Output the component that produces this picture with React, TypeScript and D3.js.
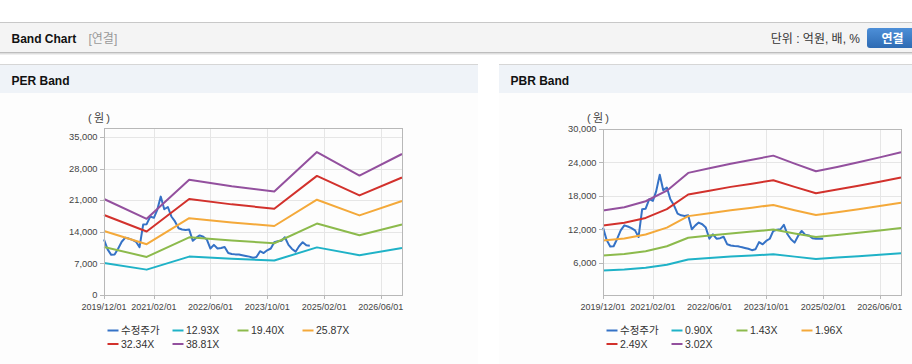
import React from 'react';
import * as d3 from 'd3';

// ---- data ----
const xStart = '2019-12-01';
const xEnd = '2026-12-01';
const xTickDates = ['2019-12-01', '2021-02-01', '2022-06-01', '2023-10-01', '2025-02-01', '2026-06-01'];
const xTickLabels = ['2019/12/01', '2021/02/01', '2022/06/01', '2023/10/01', '2025/02/01', '2026/06/01'];

// 수정주가, one value per month from 2019/12
const priceStart = '2019-12-01';
const priceValues = [
  12300, 10100, 8900, 8950, 10300, 11800, 12700, 12500, 12200, 11800,
  10600, 15600, 15700, 17400, 17100, 18800, 21800, 19000, 19500, 17400,
  16300, 14800, 14500, 14400, 14500, 12000, 12700, 13200, 12900, 12300,
  10300, 11100, 10300, 10400, 10650, 9300, 9100, 9000, 8950, 8800,
  8650, 8500, 8250, 8400, 9700, 9300, 9900, 10300, 11700, 11900,
  12000, 12800, 11100, 10200, 9600, 10800, 11700, 11000, 10900, 10400,
  10300, 10300, 10300,
];
const perPriceEnd = '2024-10-01';

const perBandDates = ['2019-12-01', '2020-12-01', '2021-12-01', '2022-12-01', '2023-12-01', '2024-12-01', '2025-12-01', '2026-12-01'];
const perLabels = ['12.93X', '19.40X', '25.87X', '32.34X', '38.81X'];
const per1293 = [7090, 5620, 8510, 8030, 7640, 10550, 8820, 10410];
const per1940 = [10630, 8440, 12770, 12050, 11470, 15830, 13230, 15620];
const per2587 = [14180, 11250, 17020, 16070, 15290, 21110, 17640, 20830];
const per3234 = [17720, 14070, 21280, 20080, 19110, 26390, 22060, 26030];
const per3881 = [21270, 16880, 25540, 24100, 22940, 31670, 26470, 31240];
const perYTicks = [0, 7000, 14000, 21000, 28000, 35000];

const pbrBandDates = ['2019-12-01', '2020-06-01', '2020-12-01', '2021-06-01', '2021-12-01', '2022-06-01', '2022-12-01', '2023-06-01',
  '2023-12-01', '2024-06-01', '2024-12-01', '2025-06-01', '2025-12-01', '2026-06-01', '2026-12-01'];
const pbrLabels = ['0.90X', '1.43X', '1.96X', '2.49X', '3.02X'];
const pbr090 = [4580, 4760, 5080, 5640, 6590, 6840, 7090, 7290, 7520, 7090, 6680, 6910, 7160, 7420, 7690];
const pbr143 = [7280, 7560, 8060, 8960, 10480, 10870, 11260, 11590, 11940, 11260, 10610, 10980, 11370, 11800, 12220];
const pbr196 = [9970, 10360, 11050, 12290, 14360, 14890, 15430, 15880, 16370, 15430, 14550, 15050, 15590, 16170, 16750];
const pbr249 = [12670, 13160, 14040, 15610, 18240, 18920, 19610, 20180, 20790, 19610, 18480, 19120, 19810, 20540, 21280];
const pbr302 = [15370, 15960, 17030, 18930, 22120, 22950, 23780, 24470, 25220, 23780, 22410, 23190, 24020, 24910, 25810];
const pbrYTicks = [6000, 12000, 18000, 24000, 30000];

const priceColor = '#3572c6';
const bandColors = ['#1fb2c7', '#8cba4c', '#f4a93a', '#d2312c', '#93509e'];

const FONT = "'Liberation Sans', Arial, 'Noto Sans CJK KR', sans-serif";
const parse = d3.timeParse('%Y-%m-%d');

const pricePoints = priceValues.map((v, i) => ({ date: d3.timeMonth.offset(parse(priceStart), i), value: v }));

function BandPanel({ px, pw, title, box, yDomain, yTicks, bandDates, bands, labels, priceEnd, legendX }) {
  const x = d3.scaleTime().domain([parse(xStart), parse(xEnd)]).range([box.left, box.right]);
  const y = d3.scaleLinear().domain(yDomain).range([box.bottom, box.top]);
  const fmt = d3.format(',');
  const line = d3.line().x(d => x(d.date)).y(d => y(d.value));

  const price = pricePoints.filter(p => p.date <= parse(priceEnd));
  const legendItems = [{ label: '수정주가', color: priceColor }].concat(
    labels.map((l, i) => ({ label: l, color: bandColors[i] })));

  return (
    <g>
      <rect x={px} y={64} width={pw} height={300} fill="#fdfdfd" />
      <rect x={px} y={65} width={pw} height={28} fill="#eff3f8" />
      <line x1={px} x2={px + pw} y1={64.5} y2={64.5} stroke="#d6d6d6" />
      <text x={px + 11.5} y={85} fontFamily={FONT} fontSize={12} fontWeight="bold" fill="#111">{title}</text>

      {/* grid */}
      {yTicks.map(t => (
        <line key={'gy' + t} x1={box.left} x2={box.right} y1={Math.round(y(t)) + 0.5} y2={Math.round(y(t)) + 0.5} stroke="#e6e6e6" />
      ))}
      {xTickDates.map(d => (
        <line key={'gx' + d} x1={Math.round(x(parse(d))) + 0.5} x2={Math.round(x(parse(d))) + 0.5} y1={box.top} y2={box.bottom} stroke="#e6e6e6" />
      ))}

      {/* lines */}
      <path d={line(price)} fill="none" stroke={priceColor} strokeWidth={2} strokeLinejoin="round" />
      {bands.map((vals, i) => (
        <path key={'b' + i} d={line(vals.map((v, j) => ({ date: parse(bandDates[j]), value: v })))}
          fill="none" stroke={bandColors[i]} strokeWidth={2} strokeLinejoin="round" />
      ))}

      {/* frame + axes */}
      <rect x={box.left + 0.5} y={box.top + 0.5} width={box.right - box.left} height={box.bottom - box.top} fill="none" stroke="#b8b8b8" />
      {yTicks.map(t => (
        <g key={'ty' + t}>
          <line x1={box.left - 4} x2={box.left} y1={Math.round(y(t)) + 0.5} y2={Math.round(y(t)) + 0.5} stroke="#b8b8b8" />
          <text x={box.left - 6.5} y={y(t)} dy="0.35em" textAnchor="end" fontFamily={FONT} fontSize={9.3} fill="#444">{fmt(t)}</text>
        </g>
      ))}
      {xTickDates.map((d, i) => (
        <g key={'tx' + d}>
          <line x1={Math.round(x(parse(d))) + 0.5} x2={Math.round(x(parse(d))) + 0.5} y1={box.bottom} y2={box.bottom + 4} stroke="#b8b8b8" />
          <text x={x(parse(d))} y={310} textAnchor="middle" fontFamily={FONT} fontSize={9} fill="#444">{xTickLabels[i]}</text>
        </g>
      ))}
      <text x={box.left - 5} y={122} textAnchor="middle" fontFamily={FONT} fontSize={11} fill="#444" textLength={22} lengthAdjust="spacing">(원)</text>

      {/* legend */}
      {legendItems.map((it, i) => {
        const lx = legendX + (i % 4) * 65;
        const ly = 330.5 + Math.floor(i / 4) * 13.5;
        return (
          <g key={'lg' + i}>
            <line x1={lx} x2={lx + 11} y1={ly} y2={ly} stroke={it.color} strokeWidth={2} />
            <text x={lx + 13.5} y={ly} dy="0.36em" fontFamily={FONT} fontSize={10.5} fill="#333">{it.label}</text>
          </g>
        );
      })}
    </g>
  );
}

export default function App() {
  return (
    <svg width={912} height={364} style={{ position: 'absolute', left: 0, top: 0, display: 'block', background: '#fff' }}>
      {/* header */}
      <line x1={0} x2={912} y1={22.5} y2={22.5} stroke="#c8c8c8" />
      <rect x={0} y={23} width={912} height={29} fill="#f4f4f4" />
      <line x1={0} x2={912} y1={52.5} y2={52.5} stroke="#bdbdbd" />
      <line x1={0} x2={912} y1={53.5} y2={53.5} stroke="#dedede" />
      <line x1={0} x2={912} y1={54.5} y2={54.5} stroke="#efefef" />
      <text x={11.5} y={43} fontFamily={FONT} fontSize={12} fontWeight="bold" fill="#111">Band Chart</text>
      <text x={88.5} y={43} fontFamily={FONT} fontSize={12} fill="#999">[연결]</text>
      <text x={860} y={43} textAnchor="end" fontFamily={FONT} fontSize={12} fill="#333">단위 : 억원, 배, %</text>
      <defs>
        <linearGradient id="btn" x1="0" y1="0" x2="0" y2="1">
          <stop offset="0%" stopColor="#4d8fd8" />
          <stop offset="100%" stopColor="#2e6bb3" />
        </linearGradient>
      </defs>
      <rect x={867} y={28} width={54} height={20} rx={3} fill="url(#btn)" />
      <text x={892.5} y={42.5} textAnchor="middle" fontFamily={FONT} fontSize={12} fontWeight="bold" fill="#fff">연결</text>

      <BandPanel px={0} pw={478} title="PER Band"
        box={{ left: 104, right: 402, top: 128, bottom: 295 }}
        yDomain={[0, 37000]} yTicks={perYTicks}
        bandDates={perBandDates} bands={[per1293, per1940, per2587, per3234, per3881]} labels={perLabels}
        priceEnd={perPriceEnd} legendX={107.5} />
      <BandPanel px={499} pw={413} title="PBR Band"
        box={{ left: 603, right: 901, top: 129, bottom: 295 }}
        yDomain={[200, 30000]} yTicks={pbrYTicks}
        bandDates={pbrBandDates} bands={[pbr090, pbr143, pbr196, pbr249, pbr302]} labels={pbrLabels}
        priceEnd={'2025-02-01'} legendX={606.5} />
    </svg>
  );
}
